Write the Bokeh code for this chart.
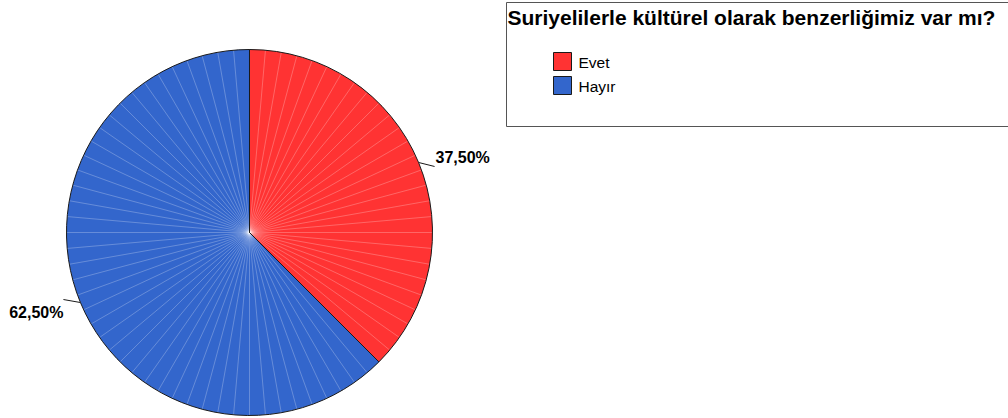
import numpy as np
from bokeh.plotting import figure
from bokeh.models import Range1d
from bokeh.core.properties import value
from bokeh.embed import file_html
from bokeh.resources import INLINE

# ---- data ----
title_text = "Suriyelilerle kültürel olarak benzerliğimiz var mı?"
categories = ["Evet", "Hayır"]
percents = [37.5, 62.5]
colors = ["#FF3333", "#3366CC"]
label_texts = ["37,50%", "62,50%"]

W, H = 1008, 418
p = figure(width=W, height=H, output_backend="svg", toolbar_location=None,
           x_range=Range1d(0, W), y_range=Range1d(0, H),
           min_border=0, outline_line_color=None)
p.axis.visible = False
p.grid.visible = False
p.background_fill_color = "white"
p.border_fill_color = "white"


def sy(y):
    return H - y


cx, cy, r = 249, sy(232), 183

# angles: start at top (90deg) and go clockwise
fr = np.array(percents) / sum(percents)
ends = np.pi / 2 - 2 * np.pi * np.cumsum(fr)
starts = np.concatenate([[np.pi / 2], ends[:-1]])

# filled wedges (counter-clockwise from end to start)
p.wedge(x=[cx] * len(categories), y=[cy] * len(categories), radius=r,
        start_angle=list(ends), end_angle=list(starts),
        fill_color=colors, line_color=None)

# fine radial texture lines
ray_ang = []
for s, e in zip(starts, ends):
    n = int(round((s - e) / np.deg2rad(5)))
    ray_ang.extend(list(np.linspace(s, e, n + 1)[1:-1]))
ray_ang = np.array(ray_ang)
p.segment(x0=[cx] * len(ray_ang), y0=[cy] * len(ray_ang),
          x1=list(cx + r * np.cos(ray_ang)), y1=list(cy + r * np.sin(ray_ang)),
          line_color="white", line_alpha=0.25, line_width=1)

# outlines
p.wedge(x=[cx] * len(categories), y=[cy] * len(categories), radius=r,
        start_angle=list(ends), end_angle=list(starts),
        fill_color=None, line_color="#1a1a1a", line_width=1)

# labels with leader lines
mids = (starts + ends) / 2
lx0, ly0, lx1, ly1 = [], [], [], []
tx, ty, align = [], [], []
for m in mids:
    px, py = cx + r * np.cos(m), cy + r * np.sin(m)
    if np.cos(m) >= 0:
        ex, ey = px + 16, py - 4
        tx.append(ex + 1); align.append("left")
        ty.append(ey + 8.5)
    else:
        ex, ey = px - 17, py + 3
        tx.append(ex); align.append("right")
        ty.append(ey - 12.5)
    lx0.append(px); ly0.append(py); lx1.append(ex); ly1.append(ey)
p.segment(x0=lx0, y0=ly0, x1=lx1, y1=ly1, line_color="#1a1a1a", line_width=1)
p.text(x=tx, y=ty, text=label_texts, text_align=align, text_baseline="middle",
       text_font=value("Liberation Sans"), text_font_style="bold",
       text_font_size="16px", text_color="black")

# legend box
p.quad(left=[506], right=[1015], top=[sy(2)], bottom=[sy(126)],
       fill_color="white", line_color="#555555", line_width=1)
p.text(x=[507], y=[sy(17)], text=[title_text], text_align="left",
       text_baseline="middle", text_font=value("Liberation Sans"),
       text_font_style="bold", text_font_size="21px", text_color="black")

sq_top = [52, 76]
p.quad(left=[553] * 2, right=[571] * 2, top=[sy(t) for t in sq_top],
       bottom=[sy(t + 18) for t in sq_top], fill_color=colors,
       line_color="#1a1a1a", line_width=1)
p.text(x=[578] * 2, y=[sy(t + 9.5) for t in sq_top], text=categories,
       text_align="left", text_baseline="middle",
       text_font=value("Liberation Sans"), text_font_size="15.5px",
       text_color="black")

open("out.html", "w").write(file_html(p, INLINE))
